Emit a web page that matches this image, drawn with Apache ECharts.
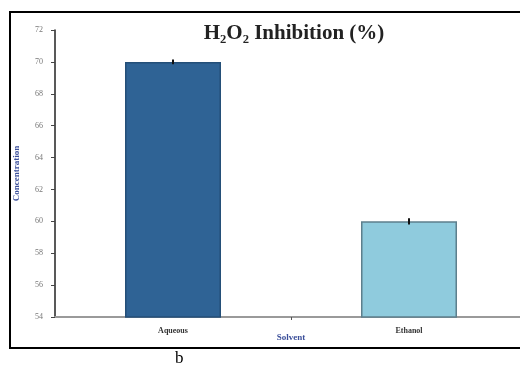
<!DOCTYPE html>
<html>
<head>
<meta charset="utf-8">
<script src="https://cdn.jsdelivr.net/npm/echarts@6/dist/echarts.min.js"></script>
<style>
  html, body { margin: 0; padding: 0; background: #fff; }
  #chart { width: 520px; height: 374px; }
</style>
</head>
<body>
<div id="chart"></div>
<script>
  // slots on the x axis; bars sit on slot 1 and 3, 'Solvent' name under slot 2
  const categories = ['', 'Aqueous', '', 'Ethanol', '']
  const barValues = [null, 70, null, 60, null]
  const errValues = [0, 0.15, 0, 0.2, 0]
  const barColors = ['#2f6395', '#8fcbdd']
  const barBorders = ['#244f78', '#5d7f8c']
  const yTicks = { min: 54, max: 72, interval: 2 }

  const myChart = echarts.init(document.getElementById('chart'))

  const barData = []
  let k = 0
  for (let i = 0; i < barValues.length; i++) {
    if (barValues[i] == null) {
      barData.push(null)
      continue
    }
    barData.push({
      value: barValues[i],
      itemStyle: { color: barColors[k], borderColor: barBorders[k], borderWidth: 1.5 }
    })
    k++
  }

  const errData = []
  for (let i = 0; i < barValues.length; i++) {
    if (barValues[i] != null) errData.push([i, barValues[i] - errValues[i], barValues[i] + errValues[i]])
  }

  const option = {
    animation: false,
    title: {
      text: 'H\u2082O\u2082 Inhibition (%)',
      left: 289,
      textAlign: 'center',
      top: 18,
      textStyle: { fontFamily: 'Liberation Serif', fontWeight: 'bold', fontSize: 21, color: '#222' }
    },
    grid: { left: 55, right: -7, top: 30, bottom: 57, containLabel: false, outerBoundsMode: 'none' },
    xAxis: {
      type: 'category',
      data: categories,
      boundaryGap: false,
      name: 'Solvent',
      nameLocation: 'middle',
      nameGap: 16,
      nameMoveOverlap: false,
      nameTextStyle: { fontFamily: 'Liberation Serif', fontWeight: 'bold', fontSize: 9, color: '#3b4f9a' },
      axisLine: { lineStyle: { color: '#9a9a9a', width: 2 } },
      axisTick: { show: true, length: 3, lineStyle: { color: '#555' }, interval: function (idx) { return idx === 2 } },
      axisLabel: { fontFamily: 'Liberation Serif', fontWeight: 'bold', fontSize: 8, color: '#333', margin: 10 }
    },
    yAxis: {
      type: 'value',
      min: yTicks.min,
      max: yTicks.max,
      interval: yTicks.interval,
      name: 'Concentration',
      nameLocation: 'middle',
      nameGap: 34,
      nameMoveOverlap: false,
      nameTextStyle: { fontFamily: 'Liberation Serif', fontWeight: 'bold', fontSize: 9, color: '#3b4f9a' },
      splitLine: { show: false },
      axisLine: { show: true, lineStyle: { color: '#222', width: 1.5 } },
      axisTick: { show: true, length: 4, lineStyle: { color: '#444' } },
      axisLabel: { fontFamily: 'Liberation Serif', fontSize: 8, color: '#777', margin: 12 }
    },
    series: [
      {
        type: 'bar',
        data: barData,
        barWidth: 96
      },
      {
        type: 'custom',
        data: errData,
        z: 5,
        renderItem: function (params, api) {
          const top = api.coord([api.value(0), api.value(2)])
          const bot = api.coord([api.value(0), api.value(1)])
          return {
            type: 'line',
            shape: { x1: top[0], y1: top[1], x2: bot[0], y2: bot[1] },
            style: { stroke: '#111', lineWidth: 2 }
          }
        }
      }
    ],
    graphic: [
      {
        type: 'rect',
        shape: { x: 10, y: 12, width: 530, height: 336 },
        style: { fill: 'none', stroke: '#000', lineWidth: 2 },
        silent: true
      },
      {
        type: 'text',
        left: 175,
        top: 350,
        style: { text: 'b', font: '17px "Liberation Serif"', fill: '#000' }
      }
    ]
  }
  myChart.setOption(option)
</script>
</body>
</html>
